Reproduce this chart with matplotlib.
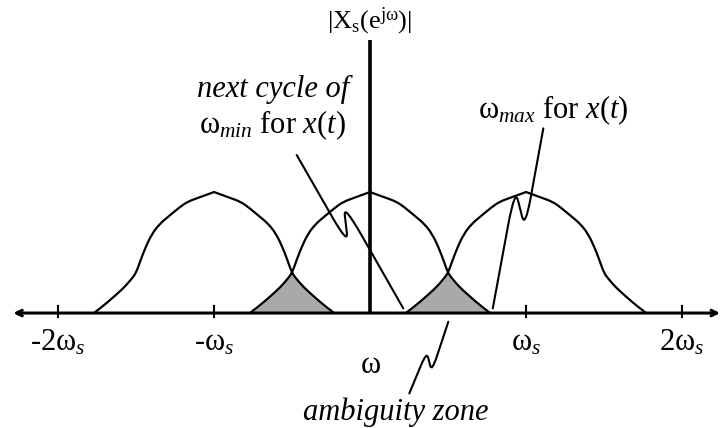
import numpy as np
import matplotlib
matplotlib.use("Agg")
import matplotlib.pyplot as plt
from matplotlib.path import Path
from matplotlib.patches import PathPatch

plt.rcParams['font.family'] = ['Liberation Serif', 'DejaVu Serif']
plt.rcParams['mathtext.fontset'] = 'custom'
plt.rcParams['mathtext.rm'] = 'Liberation Serif'
plt.rcParams['mathtext.it'] = 'Liberation Serif:italic'
plt.rcParams['mathtext.bf'] = 'Liberation Serif:bold'

# Spectral replica centres, in multiples of the sampling frequency
centers = [-1, 0, 1]
# One-sided magnitude profile of a single replica: offset from its centre and relative height
half_offset = [0.0, 0.10, 0.17, 0.22, 0.29, 0.35, 0.40, 0.44, 0.47, 0.50, 0.53, 0.57, 0.62, 0.66, 0.70, 0.77]
half_mag = [1.0, 0.953, 0.92, 0.875, 0.80, 0.735, 0.65, 0.54, 0.44, 0.33, 0.28, 0.22, 0.16, 0.115, 0.07, 0.0]

tick_pos = [-2, -1, 1, 2]
tick_labels = [r'$\text{-2}\mathrm{\omega}_{s}$', r'$\text{-}\mathrm{\omega}_{s}$',
               r'$\mathrm{\omega}_{s}$', r'$\text{2}\mathrm{\omega}_{s}$']

# Leader lines (with their little zig-zags) for the annotations
leader_next = [(-0.47, 1.306), (-0.139, 0.562), (-0.171, 0.907), (0.213, 0.039)]
leader_max = [(1.111, 1.526), (0.994, 0.70), (0.929, 1.03), (0.787, 0.039)]
leader_amb = [(0.502, -0.072), (0.396, -0.485), (0.363, -0.32), (0.252, -0.664)]


def bspline_segments(pts):
    """Quadratic B-spline through a polyline's control points (ends are kept)."""
    pts = [np.asarray(p, float) for p in pts]
    verts, codes = [], []
    for i in range(1, len(pts) - 2):
        verts += [pts[i], (pts[i] + pts[i + 1]) / 2]
        codes += [Path.CURVE3, Path.CURVE3]
    verts += [pts[-2], pts[-1]]
    codes += [Path.CURVE3, Path.CURVE3]
    return verts, codes


def replica_path(c, closed=False):
    right = list(zip(c + np.array(half_offset), half_mag))
    left = list(zip(c - np.array(half_offset), half_mag))[::-1]
    v1, c1 = bspline_segments(left)
    v2, c2 = bspline_segments(right)
    verts = [np.array(left[0])] + v1 + v2
    codes = [Path.MOVETO] + c1 + c2
    if closed:
        verts.append(np.array(left[0]))
        codes.append(Path.CLOSEPOLY)
    return Path(np.array(verts), codes)


def rounded_polyline(pts, frac=0.3):
    pts = [np.asarray(p, float) for p in pts]
    verts, codes = [pts[0]], [Path.MOVETO]
    for i in range(1, len(pts) - 1):
        a, v, b = pts[i - 1], pts[i], pts[i + 1]
        verts += [v + (a - v) * frac, v, v + (b - v) * frac]
        codes += [Path.LINETO, Path.CURVE3, Path.CURVE3]
    verts.append(pts[-1])
    codes.append(Path.LINETO)
    return Path(np.array(verts), codes)


fig = plt.figure(figsize=(7.21, 4.28), dpi=100)
ax = fig.add_axes([0, 0, 1, 1])
ax.set_xlim(-2.372, 2.250)
ax.set_ylim(-0.950, 2.587)
ax.axis('off')

# shaded overlap between neighbouring replicas
for a, b in zip(centers[:-1], centers[1:]):
    shade = PathPatch(replica_path(a, closed=True), facecolor='#a9a9a9',
                      edgecolor='none', zorder=1)
    ax.add_patch(shade)
    clip = PathPatch(replica_path(b, closed=True), transform=ax.transData)
    shade.set_clip_path(clip)

for c in centers:
    ax.add_patch(PathPatch(replica_path(c), facecolor='none', edgecolor='black',
                           lw=1.6, joinstyle='miter', zorder=3))

# frequency axis with arrows at both ends
ax.annotate('', xy=(2.244, 0), xytext=(-2.287, 0),
            arrowprops=dict(arrowstyle='<->', lw=2.2, color='black',
                            mutation_scale=10, shrinkA=0, shrinkB=0), zorder=4)
# magnitude axis
ax.plot([0, 0], [0, 2.256], color='black', lw=2.6, solid_capstyle='butt', zorder=4)

for p, lab in zip(tick_pos, tick_labels):
    ax.plot([p, p], [-0.035, 0.058], color='black', lw=1.5, zorder=4)
    ax.text(p, -0.306, lab, ha='center', va='baseline', fontsize=22)

for pts in (leader_next, leader_max, leader_amb):
    ax.add_patch(PathPatch(rounded_polyline(pts), facecolor='none', edgecolor='black',
                           lw=1.5, capstyle='round', zorder=5))

ax.text(0.0, 2.355, r'$\mathrm{|X_s(e^{j\omega})|}$', ha='center', va='baseline', fontsize=19)
ax.text(0.006, -0.496, '\u03c9', ha='center', va='baseline', fontsize=22)
ax.text(-0.62, 1.785, 'next cycle of', ha='center', va='baseline', fontsize=22, style='italic')
ax.text(-0.625, 1.488, r'$\mathrm{\omega}_{min}$ for $x(t)$', ha='center', va='baseline', fontsize=22)
ax.text(1.173, 1.61, r'$\mathrm{\omega}_{max}$ for $x(t)$', ha='center', va='baseline', fontsize=22)
ax.text(0.167, -0.884, 'ambiguity zone', ha='center', va='baseline', fontsize=22, style='italic')

fig.savefig('out.png', dpi=100)
